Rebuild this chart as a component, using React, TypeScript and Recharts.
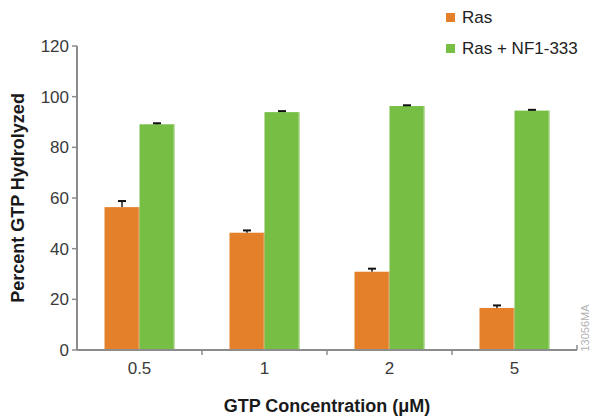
import React from 'react';
import { BarChart, Bar, XAxis, YAxis, Legend } from 'recharts';

const categories = ['0.5', '1', '2', '5'];
const rasValues = [56.4, 46.3, 30.9, 16.6];
const rasErrors = [2.4, 0.9, 1.2, 1.0];
const nfValues = [89.1, 93.9, 96.3, 94.5];
const nfErrors = [0.4, 0.4, 0.3, 0.3];
const yTicks = [0, 20, 40, 60, 80, 100, 120];
const seriesNames = ['Ras', 'Ras + NF1-333'];
const seriesColors = ['#E4802A', '#76BE44'];

const data = categories.map((c, i) => ({
  conc: c,
  ras: rasValues[i],
  rasErr: rasErrors[i],
  nf: nfValues[i],
  nfErr: nfErrors[i],
}));

const FONT = '"Liberation Sans", Arial, sans-serif';
const AXIS_COLOR = '#8c8c8c';
const TICK_MARGIN = 12;

const makeShape = (errKey: string, stemColor: string, edge: string) => (props: any) => {
  const { x, y, width, height, fill, payload, value } = props;
  const v = Array.isArray(value) ? value[1] - value[0] : value;
  const err = payload[errKey];
  const ePx = height > 0 && v ? (err * height) / v : 0;
  const cx = x + width / 2;
  return (
    <g>
      <rect x={x} y={y} width={width} height={height} fill={fill} />
      <line x1={x + width - 0.5} x2={x + width - 0.5} y1={y} y2={y + height} stroke={edge} strokeWidth={1} />
      <line x1={cx} x2={cx} y1={y} y2={y - ePx} stroke={stemColor} strokeWidth={2} />
      <line x1={cx - 4} x2={cx + 4} y1={y - ePx} y2={y - ePx} stroke="#111" strokeWidth={2} />
    </g>
  );
};

const XTick = (props: any) => {
  const { x, y, payload, index, visibleTicksCount } = props;
  const axisY = y - TICK_MARGIN;
  const off = payload && typeof payload.offset === 'number' ? payload.offset : 0;
  const count = visibleTicksCount ?? categories.length;
  return (
    <g>
      {index > 0 && off > 0 && (
        <line x1={x - off} x2={x - off} y1={axisY} y2={axisY + 5} stroke={AXIS_COLOR} strokeWidth={1.5} />
      )}
      {index === count - 1 && off > 0 && (
        <line x1={x + off} x2={x + off} y1={axisY} y2={axisY - 5} stroke={AXIS_COLOR} strokeWidth={1.5} />
      )}
      <text x={x} y={y} dy="0.71em" textAnchor="middle" fontSize={17} fill="#3a3a3a" fontFamily={FONT}>
        {payload.value}
      </text>
    </g>
  );
};

const LegendContent = () => (
  <div style={{ fontFamily: FONT, fontSize: 17, color: '#222' }}>
    {seriesNames.map((n, i) => (
      <div key={n} style={{ display: 'flex', alignItems: 'center', height: 31, whiteSpace: 'nowrap' }}>
        <span style={{ display: 'inline-block', width: 9, height: 9, background: seriesColors[i], marginRight: 7 }} />
        <span>{n}</span>
      </div>
    ))}
  </div>
);

export default function App() {
  return (
    <div style={{ position: 'absolute', left: 0, top: 0, width: 593, height: 417, background: '#fff', overflow: 'hidden' }}>
      <BarChart
        width={593}
        height={417}
        data={data}
        margin={{ top: 46, right: 16, bottom: 0, left: 0 }}
        barCategoryGap="22%"
        barGap={0}
      >
        <XAxis
          dataKey="conc"
          height={67}
          axisLine={{ stroke: AXIS_COLOR, strokeWidth: 2 }}
          tickLine={false}
          tickSize={0}
          tickMargin={TICK_MARGIN}
          tick={<XTick />}
          interval={0}
          label={{
            value: 'GTP Concentration (μM)',
            position: 'insideBottom',
            offset: 5,
            style: { fontFamily: FONT, fontSize: 18, fontWeight: 700, fill: '#1a1a1a' },
          }}
        />
        <YAxis
          width={77}
          domain={[0, 120]}
          ticks={yTicks}
          interval={0}
          axisLine={{ stroke: AXIS_COLOR, strokeWidth: 2 }}
          tickLine={{ stroke: AXIS_COLOR, strokeWidth: 1.5 }}
          tickSize={5}
          tickMargin={3}
          tick={{ fontFamily: FONT, fontSize: 17, fill: '#3a3a3a' }}
          label={{
            value: 'Percent GTP Hydrolyzed',
            angle: -90,
            position: 'center',
            dx: -21,
            style: { fontFamily: FONT, fontSize: 18, fontWeight: 700, fill: '#1a1a1a', textAnchor: 'middle' },
          }}
        />
        <Legend
          layout="vertical"
          align="center"
          verticalAlign="middle"
          content={<LegendContent />}
          wrapperStyle={{ left: 446, top: 2, width: 145, height: 62 }}
        />
        <Bar
          dataKey="ras"
          name={seriesNames[0]}
          fill={seriesColors[0]}
          isAnimationActive={false}
          shape={makeShape('rasErr', '#555', '#e9b27f')}
        />
        <Bar
          dataKey="nf"
          name={seriesNames[1]}
          fill={seriesColors[1]}
          isAnimationActive={false}
          shape={makeShape('nfErr', '#111', '#b8dd9e')}
        />
      </BarChart>
      <div
        style={{
          position: 'absolute',
          left: 585,
          top: 328,
          transform: 'translate(-50%, -50%) rotate(-90deg)',
          fontFamily: FONT,
          fontSize: 11,
          lineHeight: '11px',
          color: '#b3b3b3',
          whiteSpace: 'nowrap',
        }}
      >
        13056MA
      </div>
    </div>
  );
}
